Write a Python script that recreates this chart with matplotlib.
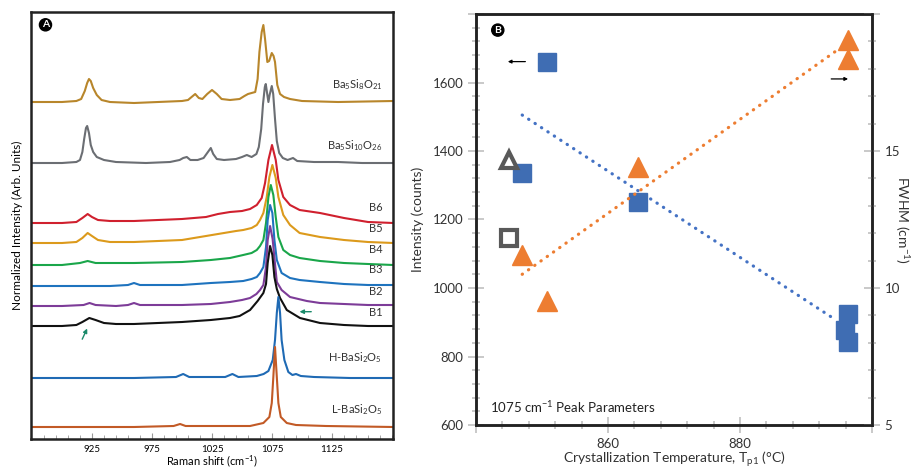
import numpy as np
import matplotlib
matplotlib.use("Agg")
import matplotlib.pyplot as plt
from matplotlib.ticker import FixedLocator, MultipleLocator

plt.rcParams['font.family'] = ['Lato', 'DejaVu Sans']
plt.rcParams['mathtext.fontset'] = 'custom'
plt.rcParams['mathtext.rm'] = 'Lato'
plt.rcParams['mathtext.it'] = 'Lato:italic'
plt.rcParams['mathtext.bf'] = 'Lato:bold'
plt.rcParams['mathtext.default'] = 'regular'

# ---- panel A: Raman spectra (x in cm-1, y = offset intensity, arb. units)
ba8_x = [874, 900, 912, 916, 919, 921, 922.5, 924, 926, 929, 933, 940, 960, 980, 1000, 1005, 1008, 1011, 1014, 1017,
         1021, 1025, 1029, 1033, 1040, 1048, 1052, 1055, 1058, 1061, 1063, 1064.5, 1066.4, 1067.8, 1069.2, 1071.1,
         1072.6, 1074.8, 1076.3, 1077.5, 1079.4, 1081.7, 1085, 1090, 1100, 1130, 1176]
ba8_y = [337, 337, 338, 340, 348, 356, 360, 358, 351, 344, 339, 337, 336, 337, 338, 339, 342, 345, 341, 340,
         345, 349, 345, 340, 339, 340, 343, 345, 346, 347, 360, 387, 407, 414, 400, 377,
         378, 386, 383, 377, 354, 345, 342, 340, 338, 337, 338]

ba10_x = [874, 900, 912, 915, 917, 918.5, 920, 921, 922.5, 924, 926, 929, 935, 945, 970, 990, 998, 1001, 1004, 1007,
          1013, 1018, 1021, 1024, 1026, 1029, 1035, 1045, 1050, 1054, 1058, 1062, 1064, 1066, 1067.5, 1069, 1069.8,
          1071, 1072, 1073, 1074.8, 1076, 1077.5, 1079, 1081, 1084, 1088, 1092.5, 1096, 1110, 1130, 1150, 1176]
ba10_y = [276, 276, 277, 279, 287, 300, 311, 313, 306, 294, 287, 282, 279, 277, 276, 277, 279, 281, 282, 279,
          279, 281, 286, 291, 285, 280, 279, 280, 282, 284, 282, 285, 292, 310, 335, 352, 355,
          345, 337, 344, 353, 345, 320, 298, 286, 281, 279, 281, 278, 277, 277, 276, 276]

b6_x = [874, 900, 912, 917, 921.4, 925, 930, 940, 960, 1000, 1020, 1030, 1040, 1050, 1056.7, 1062.3, 1066.4, 1069.2,
        1072, 1075, 1078.1, 1080.3, 1084.4, 1090, 1098, 1115, 1135, 1155, 1176]
b6_y = [216, 216, 217, 221, 225, 222, 219, 218, 218, 220, 222, 225, 227, 228, 230, 234, 241, 256,
        279, 294, 279, 259, 242, 234, 229, 226, 221, 217, 216]

b5_x = [874, 900, 912, 917, 921.4, 925, 930, 940, 960, 1000, 1020, 1035, 1045, 1051, 1058, 1062.3, 1065, 1067.8,
        1070.6, 1072.8, 1075.3, 1078.1, 1080.3, 1084.4, 1090, 1098, 1115, 1135, 1155, 1176]
b5_y = [196, 196, 197, 201, 206, 203, 199, 197, 197, 199, 203, 206, 208, 209, 211, 214, 219, 226,
        242, 262, 274, 261, 242, 224, 214, 206, 202, 199, 197, 196]

b4_x = [874, 900, 915, 921.4, 928, 940, 960, 1000, 1024, 1040, 1051, 1058, 1062.3, 1065, 1067.8, 1070, 1072, 1074,
        1076.1, 1078.1, 1080.3, 1084.4, 1090, 1098, 1115, 1135, 1155, 1176]
b4_y = [174, 174, 176, 178, 176, 176, 176, 177, 179, 181, 184, 186, 189, 193, 199, 216, 242, 254,
        244, 222, 202, 189, 184, 181, 178, 176, 175, 174]

b3_x = [874, 900, 940, 955, 960, 965, 1000, 1024, 1040, 1051, 1058, 1062.3, 1065, 1067.8, 1070, 1071.4, 1073.4,
        1075.3, 1077, 1079, 1083, 1090, 1098, 1115, 1135, 1155, 1176]
b3_y = [153, 153, 153, 154, 156, 154, 154, 156, 157, 158, 160, 162, 166, 172, 192, 219, 234,
        226, 199, 179, 166, 161, 159, 157, 155, 154, 154]

b2_x = [874, 900, 918, 923, 928, 945, 955, 960, 965, 1000, 1024, 1040, 1050, 1056.7, 1062, 1065, 1067.8, 1070,
        1071.4, 1073.4, 1075.5, 1077.5, 1079, 1083, 1090, 1104, 1115, 1135, 1155, 1176]
b2_y = [133, 133, 134, 136, 134, 133, 134, 136, 134, 134, 135, 137, 139, 141, 145, 149, 154, 172,
        199, 213, 200, 175, 157, 149, 142, 138, 136, 135, 134, 134]

b1_x = [874, 900, 912, 917, 922.8, 928, 935, 945, 960, 1000, 1024, 1040, 1048, 1056.7, 1063, 1067.8, 1070, 1071.4,
        1073.4, 1075.3, 1077, 1079, 1081.7, 1087.3, 1098.3, 1115, 1135, 1155, 1176]
b1_y = [113, 113, 114, 117, 121, 119, 116, 115, 115, 117, 119, 121, 123, 129, 138, 146, 155, 176,
        193, 184, 162, 150, 141, 129, 121, 116, 114, 113, 113]

h_x = [874, 960, 995, 1001, 1006, 1036, 1042, 1047, 1062.3, 1068, 1072, 1075.6, 1077.5, 1079, 1080.3, 1081.7, 1083,
       1085.3, 1088.6, 1092, 1095, 1099, 1110, 1140, 1176]
h_y = [61, 61, 62, 65, 62, 62, 65, 62, 63, 65, 68, 79, 99, 126, 142, 126, 99,
       79, 67, 64, 65, 63, 62, 61, 61]

l_x = [874, 960, 993, 998.4, 1003, 1040, 1056.7, 1067.8, 1072.8, 1074.8, 1076.1, 1077.5, 1079, 1080.3, 1082.3,
       1087.3, 1095, 1120, 1176]
l_y = [12, 12, 13, 15, 13, 13, 13, 16, 22, 36, 62, 92, 62, 36, 22, 16, 14, 13, 12]

spec_names = ["Ba$_5$Si$_8$O$_{21}$", "Ba$_5$Si$_{10}$O$_{26}$", "B6", "B5", "B4", "B3", "B2", "B1",
              "H-BaSi$_2$O$_5$", "L-BaSi$_2$O$_5$"]
label_y = [347, 286, 226, 205, 184, 164, 142, 121, 74, 22]
spec_colors = ["#b8862b", "#6b6e73", "#d0202e", "#dc9a1c", "#1aa64a", "#1e73be", "#7d3c98", "#111111",
               "#1f6ab4", "#c25a26"]

# ---- panel B: peak parameters vs crystallization temperature
sq_temp = [847.0, 864.6, 896.4, 895.9, 896.4]
sq_intensity = [1336, 1250, 923, 876, 842]
key_sq = (850.8, 1661)
tri_temp = [847.0, 850.8, 864.6, 896.4, 896.4]
tri_fwhm = [11.2, 9.53, 14.43, 19.05, 18.35]
grey_sq = (845.0, 1145)
grey_tri = (845.0, 14.67)
int_fit_t = [847.0, 894.5]
int_fit_v = [1505, 907]
fwhm_fit_t = [847.0, 894.9]
fwhm_fit_v = [10.5, 18.71]

fig = plt.figure(figsize=(9.14, 4.68), dpi=100)

# ================= panel A
axA = fig.add_axes([31/914, 29/468, 362/914, 427/468])
spectra = [(ba8_x, ba8_y), (ba10_x, ba10_y), (b6_x, b6_y), (b5_x, b5_y), (b4_x, b4_y),
           (b3_x, b3_y), (b2_x, b2_y), (b1_x, b1_y), (h_x, h_y), (l_x, l_y)]
for (xs, ys), c in zip(spectra, spec_colors):
    axA.plot(xs, ys, color=c, lw=1.5, solid_joinstyle='round')
for name, yl in zip(spec_names, label_y):
    axA.text(1167, yl, name, ha='right', va='bottom', fontsize=8, color='#333333')

axA.annotate('', xy=(922, 113), xytext=(915.9, 97.3),
             arrowprops=dict(arrowstyle='-|>', color='#1a8a6a', lw=1, mutation_scale=6))
axA.annotate('', xy=(1095.6, 127.3), xytext=(1110, 127.3),
             arrowprops=dict(arrowstyle='-|>', color='#1a8a6a', lw=1, mutation_scale=6))

axA.set_xlim(874.2, 1175.8)
axA.set_ylim(0, 427)
axA.set_yticks([])
axA.set_xticks([925, 975, 1025, 1075, 1125])
axA.xaxis.set_minor_locator(FixedLocator(np.arange(885, 1176, 10)))
axA.tick_params(axis='x', which='both', direction='in', color='#999999', labelsize=7, pad=4)
axA.tick_params(axis='x', which='major', length=4)
axA.tick_params(axis='x', which='minor', length=3)
for s in axA.spines.values():
    s.set_linewidth(1.8)
    s.set_color('#222222')
axA.set_xlabel("Raman shift (cm$^{-1}$)", fontsize=8, labelpad=0)
axA.set_ylabel("Normalized Intensity (Arb. Units)", fontsize=8.5, labelpad=6)
axA.text(0.04, 0.97, "A", transform=axA.transAxes, ha='center', va='center', fontsize=7.5,
         color='white', fontweight='bold',
         bbox=dict(boxstyle='circle,pad=0.15', fc='black', ec='black'))

# ================= panel B
blue = '#3f6db3'
orange = '#ed7d31'
grey = '#595959'
axB = fig.add_axes([476/914, 43/468, 396/914, 411/468])
axB.plot(int_fit_t, int_fit_v, color='#4472c4', lw=2.3, ls=(0, (0.1, 2.3)), dash_capstyle='round')
axB.plot(sq_temp, sq_intensity, 's', ms=13.5, color=blue, mec=blue)
axB.plot([key_sq[0]], [key_sq[1]], 's', ms=13.5, color=blue, mec=blue)
axB.plot([grey_sq[0]], [grey_sq[1]], 's', ms=11.5, mfc='white', mec=grey, mew=3)
axB.annotate('', xy=(844.4, 1661), xytext=(847.9, 1661),
             arrowprops=dict(arrowstyle='-|>', color='black', lw=0.9, mutation_scale=5))
axB.set_xlim(840, 900)
axB.set_ylim(600, 1800)
axB.set_xticks([840, 860, 880, 900])
axB.set_xticklabels(['', '860', '880', ''])
axB.xaxis.set_minor_locator(MultipleLocator(4))
axB.set_yticks(np.arange(600, 1801, 200))
axB.set_yticklabels([str(v) for v in range(600, 1601, 200)] + [''])
axB.yaxis.set_minor_locator(MultipleLocator(40))
axB.tick_params(which='both', direction='inout', color='#c0c0c0', width=1.2, labelsize=9.5, labelcolor='#333333')
axB.tick_params(which='major', length=11)
axB.tick_params(which='minor', length=6)
axB.set_xlabel("Crystallization Temperature, T$_{p1}$ (°C)", fontsize=10, labelpad=0, color='#333333')
axB.set_ylabel("Intensity (counts)", fontsize=10, labelpad=6, color='#333333')
axB.text(842.1, 652, "1075 cm$^{-1}$ Peak Parameters", fontsize=9.5, va='center', color='#222222')
axB.text(843.3, 1753, "B", ha='center', va='center', fontsize=7.5, color='white', fontweight='bold',
         bbox=dict(boxstyle='circle,pad=0.15', fc='black', ec='black'))

ax2 = axB.twinx()
ax2.plot(fwhm_fit_t, fwhm_fit_v, color=orange, lw=2.3, ls=(0, (0.1, 2.3)), dash_capstyle='round')
ax2.plot(tri_temp, tri_fwhm, '^', ms=15, color=orange, mec=orange)
ax2.plot([grey_tri[0]], [grey_tri[1]], '^', ms=12, mfc='white', mec=grey, mew=3)
ax2.annotate('', xy=(896.8, 17.63), xytext=(893.4, 17.63),
             arrowprops=dict(arrowstyle='-|>', color='black', lw=0.9, mutation_scale=5))
ax2.set_ylim(5, 20)
ax2.set_yticks([5, 10, 15, 20])
ax2.set_yticklabels(['5', '10', '15', ''])
ax2.yaxis.set_minor_locator(MultipleLocator(1))
ax2.tick_params(which='both', direction='inout', color='#c0c0c0', width=1.2, labelsize=9.5, labelcolor='#333333')
ax2.tick_params(which='major', length=11)
ax2.tick_params(which='minor', length=6)
ax2.set_ylabel("FWHM (cm$^{-1}$)", fontsize=10, rotation=270, labelpad=8, color='#333333')
for a in (axB, ax2):
    for s in a.spines.values():
        s.set_linewidth(1.8)
        s.set_color('#222222')

fig.savefig("out.png", dpi=100)
